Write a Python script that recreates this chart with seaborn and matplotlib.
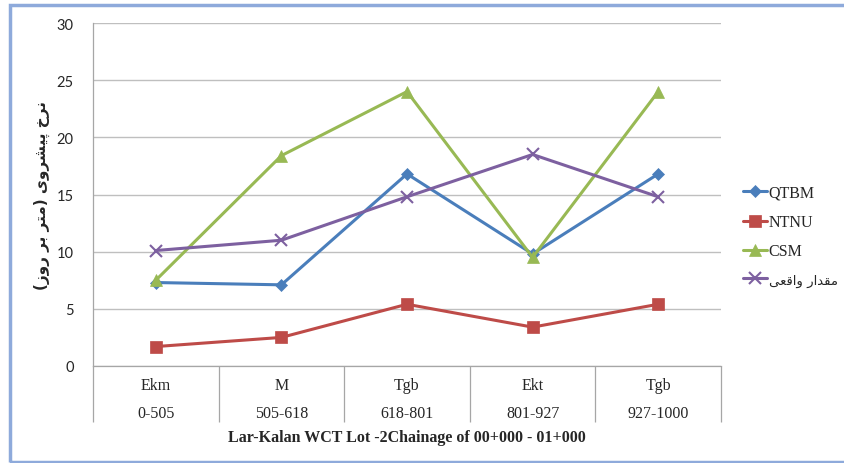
import matplotlib
matplotlib.use("Agg")
import matplotlib.pyplot as plt
import seaborn as sns
import pandas as pd
from matplotlib.patches import Rectangle
from matplotlib.lines import Line2D

# ---- data ----
formations = ["Ekm", "M", "Tgb", "Ekt", "Tgb"]
chainages = ["0-505", "505-618", "618-801", "801-927", "927-1000"]
qtbm = [7.3, 7.1, 16.8, 9.8, 16.8]
ntnu = [1.7, 2.5, 5.4, 3.4, 5.4]
csm = [7.5, 18.4, 24.0, 9.5, 24.0]
actual = [10.1, 11.0, 14.8, 18.5, 14.8]
y_ticks = [0, 5, 10, 15, 20, 25, 30]

# Persian texts written in visual (LTR) order with presentation forms
actual_label = "\uFEF0\uFECC\uFED7\uFE8D\uFEED \uFEAD\uFE8D\uFEAA\uFED8\uFEE3"
y_label = ("(\uFEAF\uFEED\uFEAD \uFEAE\uFE91 \uFEAE\uFE98\uFEE3) "
           "\uFEEF\uFEED\uFEAE\uFEB8\uFEF4\uFB58 \uFEA5\uFEAE\uFEE7")
x_title = "Lar-Kalan WCT Lot -2Chainage of 00+000 - 01+000"

series_names = ["QTBM", "NTNU", "CSM", actual_label]
series_vals = [qtbm, ntnu, csm, actual]

rows = []
for name, vals in zip(series_names, series_vals):
    for i, v in enumerate(vals):
        rows.append({"pos": i, "value": v, "series": name})
df = pd.DataFrame(rows)

colors = ["#4a7ebb", "#be4b48", "#98b954", "#7d60a0"]
markers = ["D", "s", "^", "x"]
msizes = [6, 8, 9, 8]

sns.set_theme(style="white")
plt.rcParams['font.family'] = ['Liberation Serif', 'DejaVu Sans']

fig = plt.figure(figsize=(8.45, 4.64), dpi=100)
ax = fig.add_axes([93/845, 1-367/464, 628/845, 343/464])

for name, c, m, ms in zip(series_names, colors, markers, msizes):
    sub = df[df["series"] == name]
    sns.lineplot(data=sub, x="pos", y="value", ax=ax, color=c, marker=m,
                 markersize=ms, linewidth=2.2, markeredgecolor=c,
                 markeredgewidth=1.5 if m == "x" else 0.5, legend=False,
                 zorder=3)

ax.set_xlim(-0.5, len(formations) - 0.5)
ax.set_ylim(0, 30)
ax.set_yticks(y_ticks)
ax.set_yticklabels([str(t) for t in y_ticks], fontsize=10.5,
                   family=['Lato', 'DejaVu Sans'])
ax.yaxis.grid(True, color="#bfbfbf", linewidth=1.0)
ax.xaxis.grid(False)
ax.tick_params(axis='y', length=0, pad=14)

ax.set_xticks(range(len(formations)))
ax.set_xticklabels([])
ax.tick_params(axis='x', which='major', length=0, bottom=True)
ax.set_xticks([i - 0.5 for i in range(len(formations) + 1)], minor=True)
ax.tick_params(axis='x', which='minor', length=40.5, width=0.9,
               color="#a6a6a6", direction='out', bottom=True)

for s in ["top", "right"]:
    ax.spines[s].set_visible(False)
ax.spines["left"].set_color("#a6a6a6")
ax.spines["bottom"].set_color("#a6a6a6")
ax.spines["left"].set_linewidth(0.9)
ax.spines["bottom"].set_linewidth(0.9)

tr = ax.get_xaxis_transform()
for i, (f, ch) in enumerate(zip(formations, chainages)):
    ax.text(i, -0.055, f, transform=tr, ha='center', va='center', fontsize=11.5)
    ax.text(i, -0.137, ch, transform=tr, ha='center', va='center', fontsize=11.5)

ax.text(0.5, -0.206, x_title, transform=ax.transAxes, ha='center',
        va='center', fontsize=11.5, fontweight='bold')

ax.set_xlabel("")
ax.set_ylabel(y_label, fontsize=11, family=['DejaVu Sans'], fontweight='bold')
ax.yaxis.set_label_coords(-0.068, 0.5)

handles = [Line2D([0], [0], color=c, marker=m, markersize=ms, linewidth=2.2,
                  markeredgecolor=c, markeredgewidth=1.5 if m == "x" else 0.5)
           for c, m, ms in zip(colors, markers, msizes)]
leg = fig.legend(handles, series_names, loc='upper left',
                 bbox_to_anchor=(743/845, 1-186/464), frameon=False,
                 fontsize=11.5, handlelength=1.5, handletextpad=0.1,
                 labelspacing=0.82, borderaxespad=0, borderpad=0)
for t in leg.get_texts():
    if t.get_text() == actual_label:
        t.set_family(['DejaVu Sans'])
        t.set_fontsize(9.5)

fig.patches.append(Rectangle((10/845, 1/464), 900/845, 457/464,
                             transform=fig.transFigure, fill=False,
                             edgecolor="#8eaadb", linewidth=2.5))

fig.savefig("out.png", dpi=100, facecolor="white")
